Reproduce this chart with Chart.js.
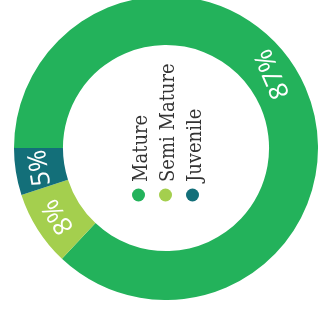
<!DOCTYPE html>
<html>
<head>
<meta charset="utf-8">
<script src="https://cdn.jsdelivr.net/npm/chart.js@4/dist/chart.umd.min.js"></script>
<style>
  html, body { margin: 0; padding: 0; background: #fff; overflow: hidden; }
  body { width: 319px; height: 313px; position: relative; }
  #wrap { position: absolute; left: 14px; top: -4px; width: 304px; height: 304px; }
</style>
</head>
<body>
<div id="wrap"><canvas id="chart" width="304" height="304"></canvas></div>
<script>
const labels = ['Mature', 'Semi Mature', 'Juvenile'];
const values = [87, 8, 5];
const colors = ['#23b25b', '#a4cf4e', '#136f79'];

// percent text sitting on each ring segment, turned along the arc
const arcLabels = {
    id: 'arcLabels',
    afterDatasetsDraw(chart) {
        const ctx = chart.ctx;
        const total = values.reduce((a, b) => a + b, 0);
        chart.getDatasetMeta(0).data.forEach((arc, i) => {
            const p = arc.getProps(['x', 'y', 'startAngle', 'endAngle', 'innerRadius', 'outerRadius'], true);
            const mid = (p.startAngle + p.endAngle) / 2;
            const r = (p.innerRadius + p.outerRadius) / 2;
            const flip = i === 0; // the big slice label runs the other way round
            ctx.save();
            ctx.translate(p.x + Math.cos(mid) * r, p.y + Math.sin(mid) * r);
            ctx.rotate(flip ? mid - Math.PI / 2 : mid + Math.PI / 2);
            ctx.textAlign = flip ? 'left' : 'center';
            ctx.textBaseline = 'middle';
            ctx.fillStyle = '#fff';
            ctx.font = '26px "Open Sans"';
            ctx.fillText(Math.round(values[i] / total * 100) + '%', 0, 0);
            ctx.restore();
        });
    },
};

// legend stood on end inside the hole
const holeLegend = {
    id: 'holeLegend',
    afterDraw(chart) {
        const ctx = chart.ctx;
        const arc = chart.getDatasetMeta(0).data[0];
        const cx = arc.x, cy = arc.y;
        labels.forEach((label, i) => {
            const x = cx + (i - 1) * 27 - 0.5;
            ctx.save();
            ctx.fillStyle = colors[i];
            ctx.beginPath();
            ctx.arc(x, cy + 47, 6.5, 0, Math.PI * 2);
            ctx.fill();
            ctx.translate(x + 8, cy + 34);
            ctx.rotate(-Math.PI / 2);
            ctx.textAlign = 'left';
            ctx.textBaseline = 'alphabetic';
            ctx.fillStyle = '#333';
            ctx.font = '20px "DejaVu Serif Condensed", "DejaVu Serif"';
            ctx.fillText(label, 0, 0);
            ctx.restore();
        });
    },
};

new Chart(document.getElementById('chart'), {
    type: 'doughnut',
    data: {
        labels,
        datasets: [{
            data: values,
            backgroundColor: colors,
            borderWidth: 0,
            hoverOffset: 0,
        }],
    },
    options: {
        responsive: false,
        animation: false,
        devicePixelRatio: 1,
        rotation: -90,
        cutout: '67.8%',
        layout: { padding: 0 },
        events: [],
        plugins: {
            legend: { display: false },
            tooltip: { enabled: false },
        },
    },
    plugins: [arcLabels, holeLegend],
});
</script>
</body>
</html>
